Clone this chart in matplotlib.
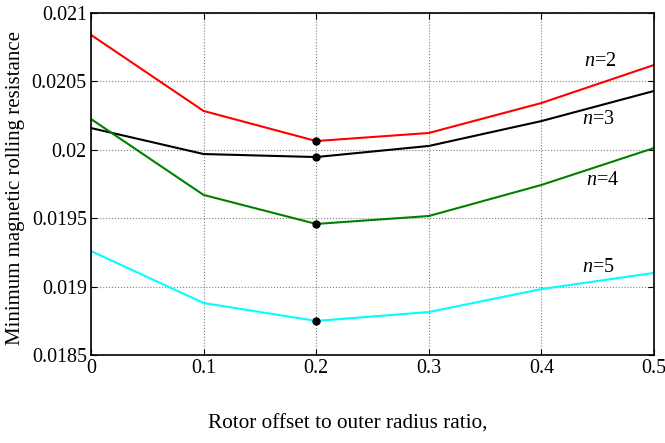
import numpy as np
import matplotlib
matplotlib.use('Agg')
import matplotlib.pyplot as plt

plt.rcParams['font.family'] = 'Liberation Serif'
plt.rcParams['mathtext.fontset'] = 'custom'
plt.rcParams['mathtext.it'] = 'Liberation Serif:italic'
plt.rcParams['mathtext.rm'] = 'Liberation Serif'

ratio = [0, 0.1, 0.2, 0.3, 0.4, 0.5]
n2 = [0.02084, 0.020284, 0.020064, 0.020123, 0.020342, 0.02062]
n3 = [0.020159, 0.019969, 0.019947, 0.020028, 0.02021, 0.02043]
n4 = [0.020225, 0.01967, 0.019458, 0.019516, 0.019743, 0.020013]
n5 = [0.01926, 0.01888, 0.018749, 0.018814, 0.018982, 0.0191]

series = [(n2, 'red', '2', 0.4520, 0.020642),
          (n3, 'black', '3', 0.4503, 0.020225),
          (n4, 'green', '4', 0.4547, 0.019772),
          (n5, 'cyan', '5', 0.4503, 0.019136)]

fig = plt.figure(figsize=(6.65, 4.43), dpi=100)
ax = fig.add_axes([91/665, 1 - 355/443, 563/665, 342/443])

for vals, col, lab, tx, ty in series:
    ax.plot(ratio, vals, color=col, lw=1.5)
    ax.plot(ratio[2], vals[2], 'o', color='black', ms=5)
    ax.text(tx, ty, r'$n$=' + lab, fontsize=14.5, ha='center', va='center')

ax.set_xlim(0, 0.5)
ax.set_ylim(0.0185, 0.021)
ax.set_xticks([0, 0.1, 0.2, 0.3, 0.4, 0.5])
ax.set_xticklabels(['0', '0.1', '0.2', '0.3', '0.4', '0.5'])
ax.set_yticks([0.0185, 0.019, 0.0195, 0.02, 0.0205, 0.021])
ax.set_yticklabels(['0.0185', '0.019', '0.0195', '0.02', '0.0205', '0.021'])
ax.tick_params(direction='in', top=True, right=True, labelsize=14.4, length=4, pad=3)
ax.grid(True, color='gray', linestyle=':', lw=0.8)
for s in ax.spines.values():
    s.set_linewidth(1.2)

fig.text(16/665, 1 - 188/443, 'Minimum magnetic rolling resistance', fontsize=15,
         rotation=90, ha='center', va='center')
fig.text(348/665, 1 - 424/443, 'Rotor offset to outer radius ratio,',
         fontsize=15.3, ha='center', va='center')

fig.savefig('out.png', dpi=100)
